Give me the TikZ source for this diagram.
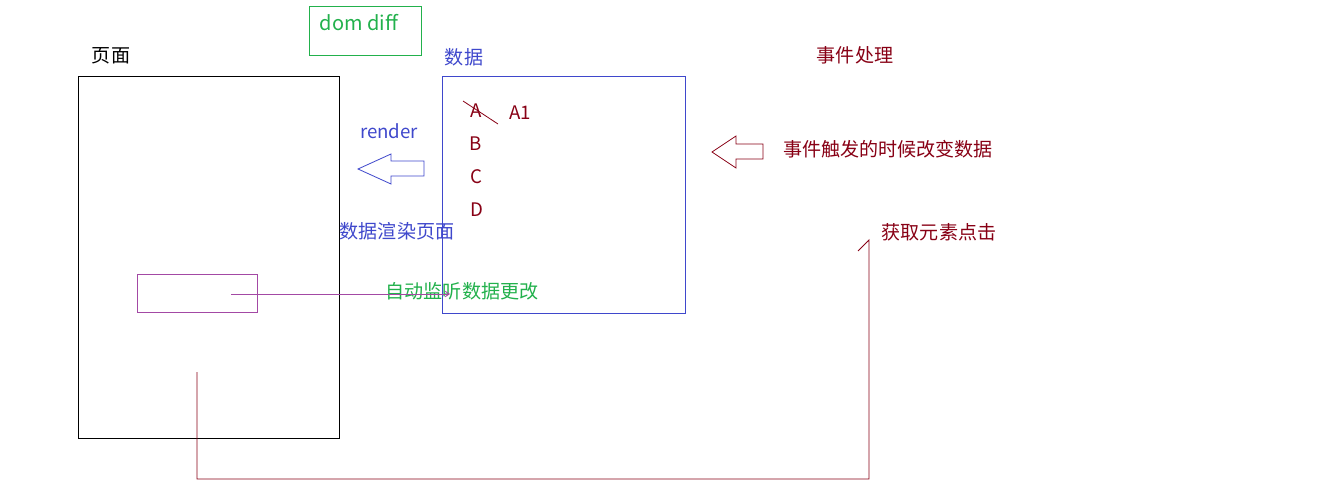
\documentclass[tikz,border=0pt]{standalone}
\usepackage{fontspec}
\setmainfont{Noto Sans CJK SC}
\usetikzlibrary{arrows.meta}
\definecolor{cblue}{HTML}{3F48CC}
\definecolor{cred}{HTML}{880015}
\definecolor{cgreen}{HTML}{22B14C}
\definecolor{cpurple}{HTML}{A349A4}
\begin{document}
\begin{tikzpicture}[x=0.75pt,y=-0.75pt,line width=0.65pt,
  lbl/.style={inner sep=0pt,font=\fontsize{14.3pt}{16pt}\selectfont},
  lblsm/.style={inner sep=0pt,font=\fontsize{14pt}{16pt}\selectfont}]
\useasboundingbox (0,0) rectangle (1328,502);
\fill[white] (0,0) rectangle (1328,502);
% boxes
\coordinate (pgA) at (78,76); \coordinate (pgB) at (339,438);
\draw[black] (pgA) rectangle (pgB);
\coordinate (ddA) at (309,6); \coordinate (ddB) at (421,55);
\draw[cgreen] (ddA) rectangle (ddB);
\coordinate (daA) at (442,76); \coordinate (daB) at (685,313);
\draw[cblue] (daA) rectangle (daB);
\coordinate (smA) at (137,274); \coordinate (smB) at (257,312);
\draw[cpurple] (smA) rectangle (smB);
% labels
\node[lbl] (page) at (111,56) {页面};
\node[lblsm,text=cgreen,font=\fontsize{15pt}{16pt}\selectfont] (domdiff) at (359,23) {dom diff};
\node[lbl,text=cblue] (data) at (464,57) {数据};
\node[lbl,text=cred] (event) at (855,55) {事件处理};
\node[lblsm,text=cblue] (render) at (389,131) {render};
\node[lblsm,text=cred] (A) at (476,111) {A};
\node[lblsm,text=cred] (A1) at (520,113) {A1};
\node[lblsm,text=cred] (B) at (476,144) {B};
\node[lblsm,text=cred] (C) at (476,177) {C};
\node[lblsm,text=cred] (D) at (477,210) {D};
\node[lbl,text=cblue] (render2) at (397,231) {数据渲染页面};
\node[lbl,text=cgreen] (watch) at (462,291) {自动监听数据更改};
\node[lbl,text=cred] (change) at (888,149) {事件触发的时候改变数据};
\node[lbl,text=cred] (click) at (939,232) {获取元素点击};
% strike through A
\coordinate (s1) at (463,101); \coordinate (s2) at (498,124);
\draw[cred,line width=0.6pt] (s1) -- (s2);
% hollow arrows
\draw[cblue,line width=0.6pt] (358,169) -- (391,154) -- (391,161) -- (424,161) -- (424,176) -- (391,176) -- (391,184) -- cycle;
\draw[cred,line width=0.6pt] (712,152) -- (736,136) -- (736,144) -- (763,144) -- (763,159) -- (736,159) -- (736,168) -- cycle;
% purple connector
\coordinate (p1) at (231,294); \coordinate (p2) at (450,294);
\draw[cpurple,-{Straight Barb[length=3pt,width=4pt]}] (p1) -- (p2);
% maroon path
\coordinate (m1) at (197,372); \coordinate (m2) at (869,240); \coordinate (m3) at (858,251);
\draw[cred] (m1) |- (869,479) -- (m2) -- (m3);
\end{tikzpicture}
\end{document}
